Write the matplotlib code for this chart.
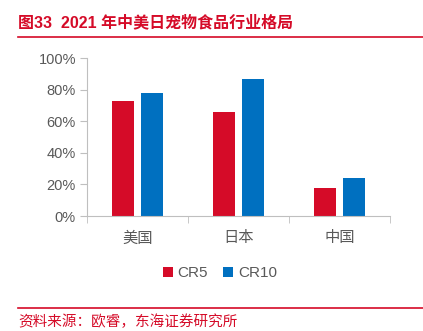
import numpy as np
import matplotlib.pyplot as plt
from matplotlib.lines import Line2D

plt.rcParams['font.family'] = ['Liberation Sans', 'Noto Sans CJK SC', 'DejaVu Sans']

countries = ["美国", "日本", "中国"]
cr5 = [73, 66, 17.5]
cr10 = [78, 87, 24]
yticks = [0, 20, 40, 60, 80, 100]

red = "#D50B28"
blue = "#0070C0"
grey = "#595959"

fig = plt.figure(figsize=(4.23, 3.31), dpi=100)
ax = fig.add_axes([87/423, 1-216/331, 303/423, 158/331])

x = np.arange(len(countries))
w = 0.22
ax.bar(x - 0.145, cr5, w, color=red, label="CR5")
ax.bar(x + 0.145, cr10, w, color=blue, label="CR10")

ax.set_xlim(-0.5, 2.5)
ax.set_ylim(0, 100)
ax.set_yticks(yticks)
ax.set_yticklabels([f"{v}%" for v in yticks], fontsize=10.5, color=grey)
ax.set_xticks(x)
ax.set_xticklabels(countries, fontsize=11, color=grey)
ax.tick_params(axis='x', length=0, pad=11)
ax.set_xticks([-0.5, 0.5, 1.5, 2.5], minor=True)
ax.tick_params(axis='x', which='minor', length=5, color="#BFBFBF", direction='out')
ax.tick_params(axis='y', length=5, color="#BFBFBF", pad=3)
for s in ["top", "right"]:
    ax.spines[s].set_visible(False)
for s in ["left", "bottom"]:
    ax.spines[s].set_color("#BFBFBF")

ax.legend(loc="center", bbox_to_anchor=(220/423, 1-273/331), bbox_transform=fig.transFigure,
          ncol=2, frameon=False, fontsize=11, handlelength=0.65, handleheight=0.65,
          handletextpad=0.3, columnspacing=1.0, labelcolor=grey)

fig.text(18/423, 1-22/331, "图33  2021 年中美日宠物食品行业格局", color=red, fontsize=11.5,
         fontweight='bold', va='center', ha='left')
fig.add_artist(Line2D([18/423, 1], [1-37/331, 1-37/331], color=red, lw=1.2))
fig.add_artist(Line2D([18/423, 1], [1-308/331, 1-308/331], color=red, lw=1.2))
fig.text(18/423, 1-322/331, "资料来源：欧睿，东海证券研究所", color=red, fontsize=10.5,
         va='center', ha='left')

fig.savefig("out.png", dpi=100)
